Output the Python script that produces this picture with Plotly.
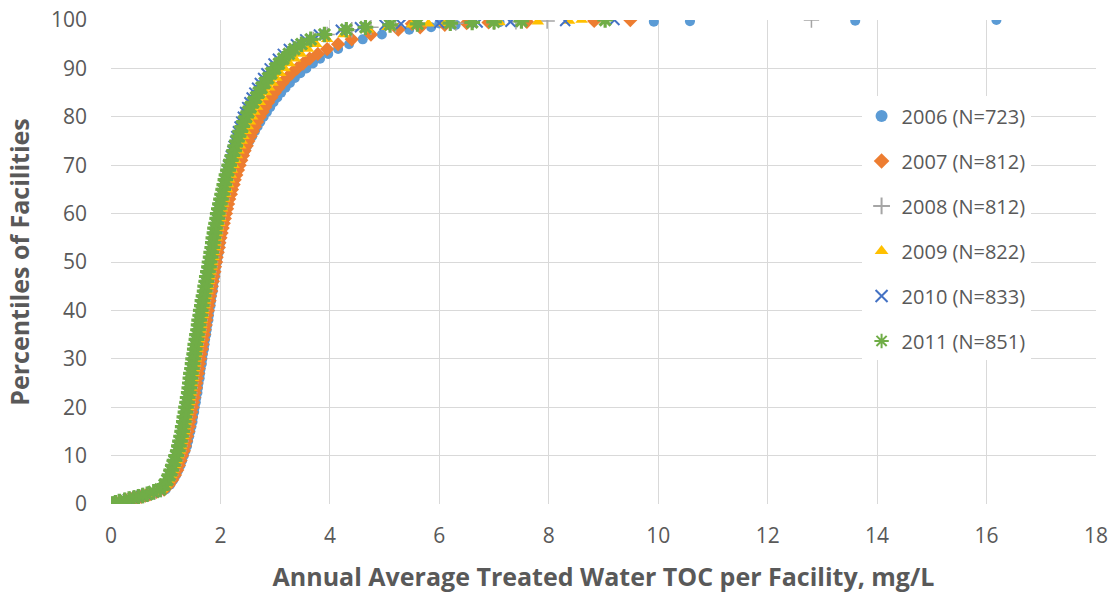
import plotly.graph_objects as go

# Percentile levels (y) for the body of every cumulative curve
PCT = [0, 0.25, 0.5, 0.75, 1, 1.25, 1.5, 1.75, 2, 2.5,
       3, 4, 5, 6, 7, 8, 9, 10, 11, 12,
       13, 14, 15, 16, 17, 18, 19, 20, 21, 22,
       23, 24, 25, 26, 27, 28, 29, 30, 31, 32,
       33, 34, 35, 36, 37, 38, 39, 40, 41, 42,
       43, 44, 45, 46, 47, 48, 49, 50, 51, 52,
       53, 54, 55, 56, 57, 58, 59, 60, 61, 62,
       63, 64, 65, 66, 67, 68, 69, 70, 71, 72,
       73, 74, 75, 76, 77, 78, 79, 80, 81, 82,
       83, 84, 85, 86, 87, 88, 89, 90, 91, 92,
       93, 94, 95, 96, 97, 98, 98.5, 99]

# TOC (mg/L) at each percentile, per year
toc_2006 = [0.05, 0.12, 0.20, 0.30, 0.40, 0.50, 0.60, 0.68, 0.75, 0.86,
            1.00, 1.08, 1.14, 1.19, 1.23, 1.27, 1.30, 1.33, 1.36, 1.39,
            1.41, 1.43, 1.45, 1.47, 1.49, 1.50, 1.52, 1.53, 1.55, 1.56,
            1.58, 1.59, 1.60, 1.62, 1.63, 1.64, 1.66, 1.67, 1.68, 1.70,
            1.71, 1.72, 1.74, 1.75, 1.76, 1.78, 1.79, 1.80, 1.82, 1.83,
            1.84, 1.86, 1.87, 1.88, 1.90, 1.91, 1.92, 1.94, 1.95, 1.97,
            1.98, 2.00, 2.01, 2.03, 2.04, 2.06, 2.08, 2.10, 2.12, 2.14,
            2.16, 2.18, 2.20, 2.23, 2.25, 2.28, 2.31, 2.34, 2.37, 2.40,
            2.45, 2.49, 2.53, 2.58, 2.63, 2.68, 2.73, 2.79, 2.85, 2.91,
            2.97, 3.04, 3.11, 3.19, 3.27, 3.36, 3.46, 3.57, 3.69, 3.82,
            3.97, 4.15, 4.35, 4.60, 4.95, 5.45, 5.85, 6.30]
toc_2007 = [0.04, 0.10, 0.18, 0.28, 0.37, 0.46, 0.55, 0.63, 0.71, 0.83,
            0.97, 1.06, 1.12, 1.17, 1.21, 1.24, 1.27, 1.30, 1.33, 1.35,
            1.37, 1.39, 1.41, 1.43, 1.44, 1.46, 1.47, 1.49, 1.50, 1.52,
            1.53, 1.55, 1.56, 1.57, 1.59, 1.60, 1.61, 1.63, 1.64, 1.66,
            1.67, 1.68, 1.70, 1.71, 1.73, 1.74, 1.75, 1.77, 1.78, 1.80,
            1.81, 1.83, 1.84, 1.86, 1.87, 1.89, 1.90, 1.92, 1.93, 1.95,
            1.97, 1.98, 2.00, 2.02, 2.04, 2.06, 2.08, 2.10, 2.12, 2.14,
            2.16, 2.19, 2.21, 2.24, 2.26, 2.29, 2.32, 2.35, 2.38, 2.41,
            2.44, 2.48, 2.51, 2.55, 2.59, 2.63, 2.67, 2.72, 2.77, 2.82,
            2.87, 2.93, 2.99, 3.06, 3.13, 3.21, 3.30, 3.40, 3.51, 3.63,
            3.78, 3.95, 4.15, 4.40, 4.75, 5.25, 5.65, 6.10]
toc_2008 = [0.03, 0.10, 0.17, 0.26, 0.35, 0.43, 0.51, 0.59, 0.67, 0.80,
            0.92, 1.00, 1.05, 1.09, 1.12, 1.15, 1.18, 1.21, 1.24, 1.26,
            1.28, 1.30, 1.32, 1.33, 1.35, 1.36, 1.38, 1.39, 1.41, 1.42,
            1.44, 1.45, 1.46, 1.47, 1.48, 1.50, 1.51, 1.52, 1.54, 1.55,
            1.56, 1.58, 1.59, 1.61, 1.62, 1.63, 1.65, 1.66, 1.68, 1.69,
            1.71, 1.73, 1.74, 1.76, 1.77, 1.79, 1.81, 1.82, 1.84, 1.85,
            1.87, 1.88, 1.89, 1.91, 1.92, 1.94, 1.96, 1.97, 1.99, 2.01,
            2.03, 2.05, 2.07, 2.09, 2.11, 2.13, 2.16, 2.18, 2.21, 2.24,
            2.27, 2.29, 2.32, 2.35, 2.38, 2.42, 2.45, 2.49, 2.53, 2.57,
            2.62, 2.67, 2.72, 2.77, 2.83, 2.89, 2.95, 3.02, 3.09, 3.17,
            3.27, 3.38, 3.52, 3.70, 3.95, 4.40, 4.75, 5.20]
toc_2009 = [0.03, 0.09, 0.16, 0.26, 0.35, 0.44, 0.52, 0.60, 0.68, 0.80,
            0.93, 1.01, 1.06, 1.10, 1.14, 1.17, 1.20, 1.23, 1.26, 1.28,
            1.30, 1.32, 1.34, 1.35, 1.37, 1.38, 1.40, 1.41, 1.43, 1.44,
            1.46, 1.47, 1.48, 1.50, 1.51, 1.52, 1.54, 1.55, 1.56, 1.58,
            1.59, 1.61, 1.62, 1.64, 1.65, 1.66, 1.68, 1.69, 1.71, 1.72,
            1.74, 1.76, 1.77, 1.79, 1.80, 1.82, 1.84, 1.85, 1.87, 1.88,
            1.90, 1.91, 1.93, 1.94, 1.96, 1.98, 2.00, 2.01, 2.03, 2.05,
            2.07, 2.09, 2.12, 2.14, 2.16, 2.19, 2.21, 2.24, 2.27, 2.30,
            2.33, 2.36, 2.39, 2.42, 2.46, 2.50, 2.54, 2.58, 2.62, 2.67,
            2.72, 2.77, 2.83, 2.89, 2.95, 3.02, 3.09, 3.17, 3.26, 3.36,
            3.47, 3.60, 3.75, 3.95, 4.25, 4.70, 5.05, 5.50]
toc_2010 = [0.00, 0.07, 0.14, 0.23, 0.31, 0.40, 0.48, 0.56, 0.64, 0.76,
            0.89, 0.97, 1.02, 1.06, 1.09, 1.12, 1.15, 1.18, 1.21, 1.23,
            1.25, 1.27, 1.29, 1.30, 1.32, 1.33, 1.35, 1.36, 1.38, 1.39,
            1.41, 1.42, 1.43, 1.44, 1.45, 1.47, 1.48, 1.49, 1.51, 1.52,
            1.53, 1.55, 1.56, 1.58, 1.59, 1.60, 1.62, 1.63, 1.65, 1.66,
            1.68, 1.70, 1.71, 1.73, 1.74, 1.76, 1.78, 1.79, 1.81, 1.82,
            1.84, 1.85, 1.86, 1.88, 1.89, 1.91, 1.93, 1.94, 1.96, 1.98,
            2.00, 2.02, 2.04, 2.06, 2.08, 2.10, 2.12, 2.14, 2.17, 2.19,
            2.22, 2.24, 2.27, 2.29, 2.32, 2.35, 2.38, 2.41, 2.45, 2.49,
            2.53, 2.57, 2.62, 2.67, 2.72, 2.78, 2.84, 2.90, 2.97, 3.05,
            3.14, 3.25, 3.38, 3.55, 3.80, 4.20, 4.55, 5.00]
toc_2011 = [0.02, 0.08, 0.15, 0.25, 0.33, 0.42, 0.50, 0.58, 0.66, 0.78,
            0.90, 0.98, 1.03, 1.07, 1.10, 1.13, 1.16, 1.19, 1.22, 1.24,
            1.26, 1.28, 1.30, 1.31, 1.33, 1.34, 1.36, 1.37, 1.39, 1.40,
            1.42, 1.43, 1.44, 1.45, 1.46, 1.48, 1.49, 1.50, 1.52, 1.53,
            1.54, 1.56, 1.57, 1.59, 1.60, 1.61, 1.63, 1.64, 1.66, 1.67,
            1.69, 1.71, 1.72, 1.74, 1.75, 1.77, 1.79, 1.80, 1.82, 1.83,
            1.85, 1.86, 1.87, 1.89, 1.90, 1.92, 1.94, 1.95, 1.97, 1.99,
            2.01, 2.03, 2.05, 2.07, 2.09, 2.11, 2.14, 2.16, 2.19, 2.22,
            2.25, 2.27, 2.30, 2.33, 2.36, 2.40, 2.43, 2.47, 2.51, 2.55,
            2.60, 2.65, 2.70, 2.75, 2.81, 2.87, 2.93, 3.00, 3.07, 3.15,
            3.25, 3.35, 3.48, 3.65, 3.90, 4.30, 4.65, 5.10]

# Upper-tail facilities (percentile above 99)
tail_pct_2006 = [99.15, 99.3, 99.45, 99.55, 99.65, 99.75, 99.87, 100]
tail_toc_2006 = [5.6, 6.0, 6.6, 7.1, 9.92, 10.58, 13.6, 16.18]
tail_pct = [99.2, 99.35, 99.5, 99.63, 99.8, 100]
tail_toc_2007 = [5.5, 6.5, 6.9, 7.6, 8.83, 9.49]
tail_toc_2008 = [5.6, 6.3, 7.0, 7.4, 7.97, 12.8]
tail_toc_2009 = [5.8, 6.1, 7.1, 7.8, 8.37, 8.6]
tail_toc_2010 = [5.3, 6.0, 6.7, 7.3, 8.3, 9.2]
tail_toc_2011 = [5.6, 6.2, 6.6, 7.0, 7.5, 9.03]

names = ["2006 (N=723)", "2007 (N=812)", "2008 (N=812)",
         "2009 (N=822)", "2010 (N=833)", "2011 (N=851)"]

series = [
    (names[0], toc_2006 + tail_toc_2006, PCT + tail_pct_2006,
     dict(symbol="circle", size=10, color="#5B9BD5")),
    (names[1], toc_2007 + tail_toc_2007, PCT + tail_pct,
     dict(symbol="diamond", size=11, color="#ED7D31")),
    (names[2], toc_2008 + tail_toc_2008, PCT + tail_pct,
     dict(symbol="cross-thin", size=11, color="#A5A5A5",
          line=dict(color="#A5A5A5", width=1.5))),
    (names[3], toc_2009 + tail_toc_2009, PCT + tail_pct,
     dict(symbol="triangle-up", size=11, color="#FFC000")),
    (names[4], toc_2010 + tail_toc_2010, PCT + tail_pct,
     dict(symbol="x-thin", size=10, color="#4472C4",
          line=dict(color="#4472C4", width=2))),
    (names[5], toc_2011 + tail_toc_2011, PCT + tail_pct,
     dict(symbol="asterisk", size=13, color="#70AD47",
          line=dict(color="#70AD47", width=3.2))),
]

FONT = "Open Sans, DejaVu Sans, sans-serif"
GRAY = "#595959"

fig = go.Figure()
for i, (nm, xs, ys, mk) in enumerate(series):
    fig.add_trace(go.Scatter(x=xs, y=ys, mode="markers", name=nm,
                             legendgroup=f"g{i}", marker=mk))

fig.update_layout(
    width=1113, height=594,
    margin=dict(l=111, r=17, t=20, b=90),
    paper_bgcolor="white", plot_bgcolor="white",
    font=dict(family=FONT, color=GRAY),
    showlegend=True,
    legend=dict(x=0.762, y=0.842, xanchor="left", yanchor="top",
                bgcolor="white", borderwidth=0,
                font=dict(family=FONT, size=20, color=GRAY),
                tracegroupgap=16, itemsizing="constant"),
    xaxis=dict(range=[0, 18], dtick=2, showgrid=True, gridcolor="#d9d9d9",
               gridwidth=1, zeroline=False, showline=False, ticks="",
               automargin=False,
               tickfont=dict(family=FONT, size=21, color=GRAY),
               ticklabelstandoff=17,
               title=dict(text="<b>Annual Average Treated Water TOC per Facility, mg/L</b>",
                          font=dict(family=FONT, size=25, color=GRAY),
                          standoff=20)),
    yaxis=dict(range=[0, 100], dtick=10, showgrid=True, gridcolor="#d9d9d9",
               gridwidth=1, zeroline=False, showline=False, ticks="",
               automargin=False,
               tickfont=dict(family=FONT, size=21, color=GRAY),
               ticklabelstandoff=23,
               title=dict(text="<b>Percentiles of Facilities</b>",
                          font=dict(family=FONT, size=25, color=GRAY),
                          standoff=14)),
)

fig.write_html("out.html")
